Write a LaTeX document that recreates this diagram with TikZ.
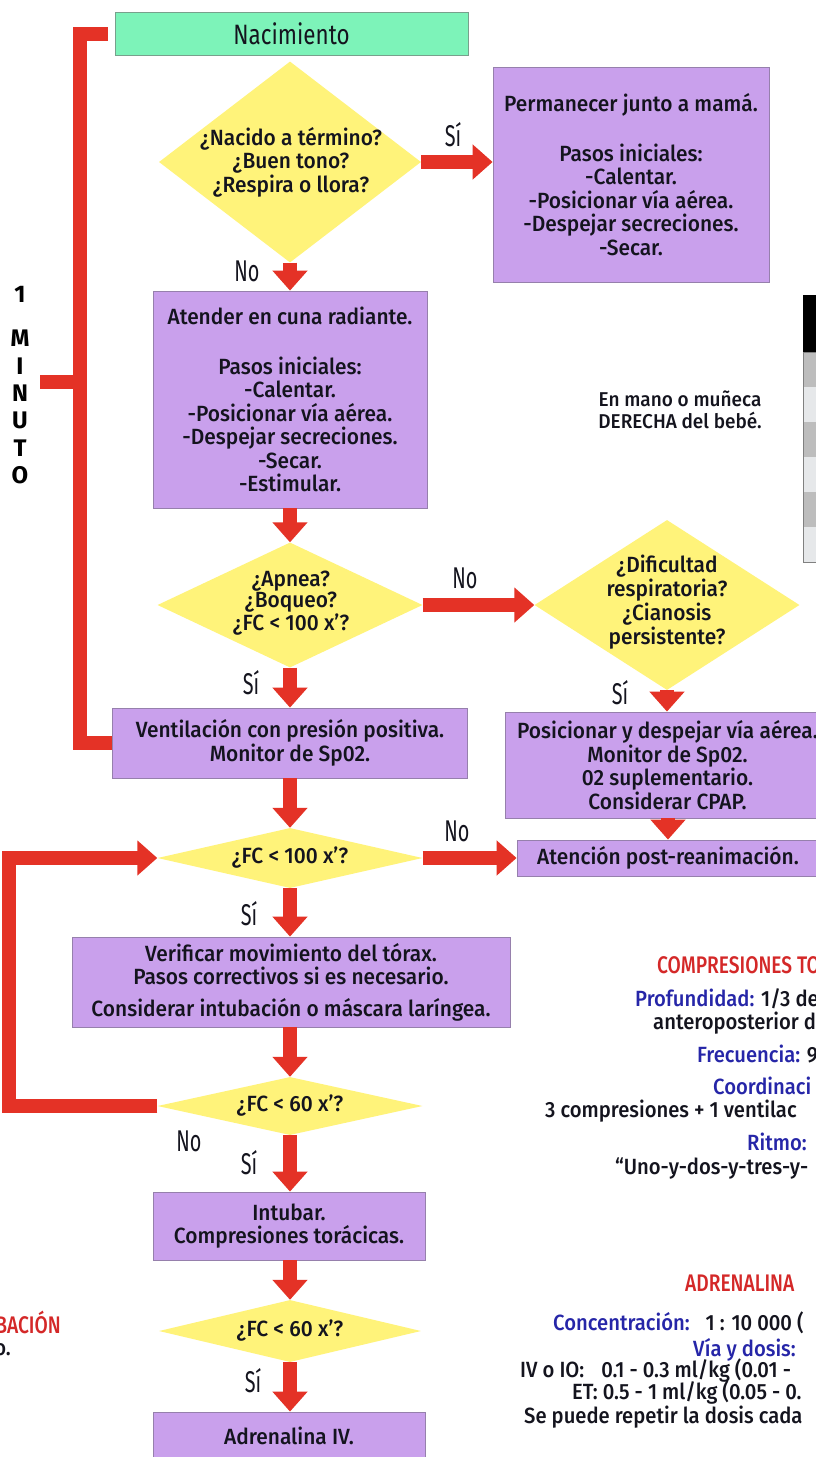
\documentclass[tikz,border=0pt]{standalone}
\usepackage{fontspec}
\setmainfont{Fira Sans}[UprightFont={* Medium}, BoldFont={* Bold}, FakeStretch=0.95]
\newfontfamily\condfont{Fira Sans}[UprightFont={* Medium}, FakeStretch=0.8]
\newfontfamily\rightfam{Fira Sans}[UprightFont={* Medium}, FakeStretch=0.92]
\newfontfamily\nacfam{Fira Sans}[FakeStretch=0.8]
\newfontfamily\lblfam{Fira Sans}[FakeStretch=0.66]
\newfontfamily\heavyfam{Fira Sans}[UprightFont={* Bold}]
\usetikzlibrary{shapes.geometric,arrows.meta}
\definecolor{boxpurple}{RGB}{201,160,236}
\definecolor{boxline}{RGB}{150,128,172}
\definecolor{diayellow}{RGB}{255,243,122}
\definecolor{nacgreen}{RGB}{125,243,185}
\definecolor{nacline}{RGB}{120,160,140}
\definecolor{arrowred}{RGB}{228,50,38}
\definecolor{headred}{RGB}{212,40,40}
\definecolor{txtblue}{RGB}{38,38,168}
\definecolor{txtblack}{RGB}{20,20,30}
\definecolor{rowgrey}{RGB}{189,189,189}
\definecolor{rowlight}{RGB}{230,232,234}
\tikzset{
  box/.style={draw=boxline, fill=boxpurple, line width=0.8pt, align=center,
    inner sep=0pt, text=txtblack, font={\fontsize{22}{23.5}\selectfont}},
  dia/.style={diamond, fill=diayellow, draw=none, inner sep=0pt},
  dtext/.style={align=center, inner sep=0pt, text=txtblack, font={\fontsize{22}{23.5}\selectfont}},
  redarrow/.style={draw=arrowred, line width=14pt, -{Triangle[width=34pt,length=20pt]}},
  redline/.style={draw=arrowred, line width=14pt},
  lbl/.style={inner sep=0pt, text=txtblack, font={\lblfam\fontsize{30}{32}\selectfont}},
  rtxt/.style={inner sep=0pt, anchor=base west, text=txtblack, font={\rightfam\fontsize{22}{24}\selectfont}},
  rhead/.style={inner sep=0pt, anchor=base west, text=headred, font={\condfont\fontsize{24}{26}\selectfont}},
}
\begin{document}
\begin{tikzpicture}[x=1pt,y=-1pt]
\useasboundingbox (0,0) rectangle (816,1457);
\fill[white] (0,0) rectangle (816,1457);
\clip (0,0) rectangle (816,1457);

% table at right edge
\fill[black] (803,295) rectangle (830,352);
\fill[rowgrey] (803,352) rectangle (830,387);
\fill[rowlight] (803,387) rectangle (830,422);
\fill[rowgrey] (803,422) rectangle (830,457);
\fill[rowlight] (803,457) rectangle (830,492);
\fill[rowgrey] (803,492) rectangle (830,527);
\fill[rowlight] (803,527) rectangle (830,562);
\draw[gray, line width=0.8pt] (803,352) rectangle (830,562);

% nodes
\node[box, fill=nacgreen, draw=nacline, minimum width=353, minimum height=43,
  font={\nacfam\fontsize{28}{30}\selectfont}] (nac) at (291.5,33.5) {Nacimiento};

\node[dia, minimum width=262, minimum height=201] (d1) at (290,162) {};
\node[dtext] (t1) at (291,162) {¿Nacido a término?\\¿Buen tono?\\¿Respira o llora?};

\node[box, minimum width=276, minimum height=215] (perm) at (631,174.5)
  {Permanecer junto a mamá.\\[26pt]Pasos iniciales:\\-Calentar.\\-Posicionar vía aérea.\\-Despejar secreciones.\\-Secar.};

\node[box, minimum width=274, minimum height=217] (aten0) at (290,399.5)
  {Atender en cuna radiante.\\[26pt]Pasos iniciales:\\-Calentar.\\-Posicionar vía aérea.\\-Despejar secreciones.\\-Secar.\\-Estimular.};

\node[dia, minimum width=265, minimum height=125] (d2) at (290,605) {};
\node[dtext, font={\fontsize{22}{21}\selectfont}] (t2) at (291,603) {¿Apnea?\\¿Boqueo?\\¿FC < 100 x’?};

\node[dia, minimum width=265, minimum height=170] (d3) at (667,605) {};
\node[dtext, font={\fontsize{22}{24}\selectfont}] (t3) at (667,602) {¿Dificultad\\respiratoria?\\¿Cianosis\\persistente?};

\node[box, minimum width=355, minimum height=70] (vpp) at (290,743)
  {Ventilación con presión positiva.\\Monitor de Sp02.};

\node[box, minimum width=325, minimum height=106] (pos) at (667.5,765)
  {Posicionar y despejar vía aérea.\\Monitor de Sp02.\\02 suplementario.\\Considerar CPAP.};

\node[box, minimum width=302, minimum height=36] (post) at (668,858)
  {Atención post-reanimación.};

\node[dia, minimum width=265, minimum height=60] (d4) at (290,858) {};
\node[dtext] (t4) at (290,858) {¿FC < 100 x’?};

\node[box, minimum width=438, minimum height=90] (verif) at (291,982)
  {Verificar movimiento del tórax.\\Pasos correctivos si es necesario.\\[8pt]Considerar intubación o máscara laríngea.};

\node[dia, minimum width=265, minimum height=58] (d5) at (290,1106) {};
\node[dtext] (t5) at (290,1106) {¿FC < 60 x’?};

\node[box, minimum width=272, minimum height=68] (intub) at (289,1226)
  {Intubar.\\Compresiones torácicas.};

\node[dia, minimum width=262, minimum height=62] (d6) at (290,1331) {};
\node[dtext] (t6) at (290,1331) {¿FC < 60 x’?};

\node[box, minimum width=272, minimum height=48] (adr) at (289,1436)
  {Adrenalina IV.};

% arrows
\draw[redarrow] (d1.east) -- (d1.east -| perm.west);
\draw[redarrow] (d1.south) -- (d1.south |- aten0.north);
\draw[redarrow] (aten0.south -| d2.north) -- (d2.north);
\draw[redarrow] (d2.east) -- (d3.west);
\draw[redarrow] (d2.south) -- (d2.south |- vpp.north);
\draw[redarrow] (d3.south) -- (d3.south |- pos.north);
\draw[redarrow] (pos.south -| post.north) -- (post.north);
\draw[redarrow] (vpp.south -| d4.north) -- (d4.north);
\draw[redarrow] (d4.east) -- (post.west);
\draw[redarrow] (d4.south) -- (d4.south |- verif.north);
\draw[redarrow] (verif.south -| d5.north) -- (d5.north);
\coordinate (loopc) at (9,1106);
\draw[redarrow] (d5.west) -- (loopc) |- (d4.west);
\draw[redarrow] (d5.south) -- (d5.south |- intub.north);
\draw[redarrow] (intub.south -| d6.north) -- (d6.north);
\draw[redarrow] (d6.south) -- (d6.south |- adr.north);

% one-minute bracket
\coordinate (brk) at (80,400);
\coordinate (stub) at (40,382);
\draw[redline] ([xshift=-7pt]nac.west) -| (brk) |- (vpp.west);
\draw[redline] (stub) -- (stub -| brk);
\node[inner sep=0pt, align=center, text=black, font={\heavyfam\fontsize{24}{27.4}\selectfont}] (minuto) at (20,385)
  {1\\[17pt]M\\I\\N\\U\\T\\O};

% labels
\node[lbl] (l1) at (453,135) {Sí};
\node[lbl] (l2) at (247,271) {No};
\node[lbl] (l3) at (465,578) {No};
\node[lbl] (l4) at (251,683) {Sí};
\node[lbl] (l5) at (620,693) {Sí};
\node[lbl] (l6) at (457,831) {No};
\node[lbl] (l7) at (249,914) {Sí};
\node[lbl] (l8) at (189,1141) {No};
\node[lbl] (l9) at (249,1163) {Sí};
\node[lbl] (l10) at (253,1381) {Sí};

% side notes
\node[inner sep=0pt, align=center, text=txtblack, font={\fontsize{20}{21.5}\selectfont}] (mano) at (680,410)
  {En mano o muñeca\\DERECHA del bebé.};

\node[rhead] (comp) at (657,973) {COMPRESIONES TO};
\node[rtxt] (prof) at (635,1006) {\textcolor{txtblue}{Profundidad:} 1/3 de};
\node[rtxt] (ante) at (653,1029) {anteroposterior d};
\node[rtxt] (frec) at (697,1062) {\textcolor{txtblue}{Frecuencia:} 9};
\node[rtxt, text=txtblue] (coor) at (713,1094) {Coordinaci};
\node[rtxt] (tres) at (545,1117) {3 compresiones + 1 ventilac};
\node[rtxt, text=txtblue] (ritmo) at (747,1150) {Ritmo:};
\node[rtxt] (uno) at (615,1174) {“Uno-y-dos-y-tres-y-};

\node[rhead] (adrh) at (685,1291) {ADRENALINA};
\node[rtxt] (conc) at (553,1330) {\textcolor{txtblue}{Concentración:}\hspace{16pt}1 : 10 000 (};
\node[rtxt, text=txtblue] (via) at (693,1356) {Vía y dosis:};
\node[rtxt] (iv) at (520,1377) {IV o IO:\hspace{17pt}0.1 - 0.3 ml/kg (0.01 -};
\node[rtxt] (et) at (572,1399) {ET: 0.5 - 1 ml/kg (0.05 - 0.};
\node[rtxt] (rep) at (524,1423) {Se puede repetir la dosis cada};

\node[rhead, anchor=base east] (bac) at (61,1333) {BACIÓN};
\node[rtxt, anchor=base east] (tubo) at (11,1355) {o.};
\end{tikzpicture}
\end{document}
